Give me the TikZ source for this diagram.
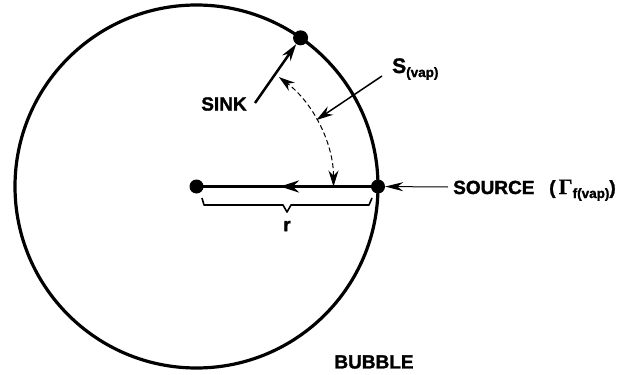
\documentclass[tikz,border=0pt]{standalone}
\usepackage{fontspec}
\setmainfont{Liberation Sans}[BoldFeatures={FakeBold=1.5}]
\newfontfamily\gfont{Liberation Serif}[FakeBold=0.6]
\usetikzlibrary{arrows.meta,decorations.markings,calc}
\begin{document}
\begin{tikzpicture}[x=1pt,y=-1pt,
  dot/.style={circle,fill=black,inner sep=0pt,minimum size=14pt},
  lbl/.style={font=\fontsize{19}{22}\selectfont\bfseries,inner sep=1pt},
  mytip/.tip={Stealth[length=17pt,width=10pt]}]
\useasboundingbox (0,0) rectangle (638,375);
\coordinate (o) at (196.5,186.5);
% bubble
\draw[line width=3.2pt] (o) circle[radius=181.5];
% dots
\node[dot] (c) at (o) {};
\node[dot] (s) at (378,186.5) {};
\node[dot,minimum size=15pt] (k) at ($(o)+(-55:181.5)$) {};
% radius line with mid arrow
\draw[line width=3pt,
  decoration={markings,mark=at position 0.54 with {\arrow{Stealth[length=19pt,width=12pt]}}},
  postaction={decorate}] (s.center) -- (c.center);
% dashed arc
\coordinate (a0) at ($(o)+(0:137)$);
\coordinate (a1) at ($(o)+(-29:137)$);
\draw[line width=1pt,dash pattern=on 5pt off 3pt,{Stealth[length=16pt,width=10pt]}-{Stealth[length=16pt,width=10pt]}]
  (a0) arc[start angle=0,end angle=-53,radius=137];
% labels
\node[lbl] (sink) at (224,104) {SINK};
\coordinate (sinktail) at (255,103);
\draw[line width=2.5pt,-mytip] (sinktail) -- (k);
\node[anchor=base west,inner sep=0pt] (sv) at (392,73)
  {\bfseries\fontsize{21}{24}\selectfont S\raisebox{-4pt}{\fontsize{13.5}{15}\selectfont(vap)}};
\coordinate (svtail) at (382,76);
\draw[line width=1.5pt,-mytip] (svtail) -- (a1);
\node[lbl,anchor=base west,inner sep=0pt] (src) at (453,194) {SOURCE};
\node[anchor=base west,inner sep=0pt] (gam) at (549,194)
  {\bfseries\fontsize{19}{22}\selectfont(\,{\gfont\fontsize{22}{24}\selectfont\char"0393}\raisebox{-4pt}{\fontsize{13.5}{15}\selectfont f(vap)})};
\coordinate (srctail) at (448,187);
\draw[line width=1pt,-{Stealth[length=18pt,width=9pt]}] (srctail) -- (s);
% brace
\draw[line width=1.6pt,line join=round] (202,198) -- (204,205) -- (283,205) -- (287,212) -- (291,205) -- (369,205) -- (372,198);
\node[lbl] (r) at (287,226) {r};
\node[lbl] (bub) at (374,362) {BUBBLE};
\end{tikzpicture}
\end{document}
